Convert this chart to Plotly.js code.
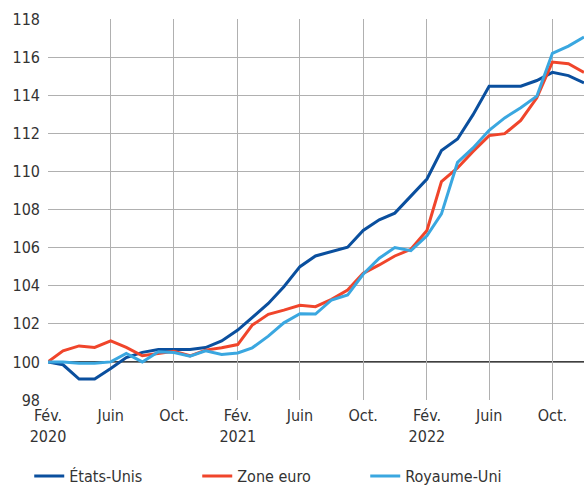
<!DOCTYPE html>
<html>
<head>
<meta charset="utf-8">
<script src="https://cdn.plot.ly/plotly-3.0.1.min.js"></script>
<style>html,body{margin:0;padding:0;background:#fff;}#chart{width:584px;height:485px;}</style>
</head>
<body>
<div id="chart"></div>
<script>
// Monthly dates Feb 2020 .. Dec 2022
const months = [
  '2020-02-01','2020-03-01','2020-04-01','2020-05-01','2020-06-01','2020-07-01','2020-08-01','2020-09-01','2020-10-01','2020-11-01','2020-12-01',
  '2021-01-01','2021-02-01','2021-03-01','2021-04-01','2021-05-01','2021-06-01','2021-07-01','2021-08-01','2021-09-01','2021-10-01','2021-11-01','2021-12-01',
  '2022-01-01','2022-02-01','2022-03-01','2022-04-01','2022-05-01','2022-06-01','2022-07-01','2022-08-01','2022-09-01','2022-10-01','2022-11-01','2022-12-01'
];
const etatsUnis = [100, 99.85, 99.1, 99.1, 99.65, 100.23, 100.5, 100.65, 100.65, 100.65, 100.75,
  101.1, 101.67, 102.33, 103.07, 103.95, 105.0, 105.56, 105.79, 106.02, 106.9, 107.46, 107.81,
  108.68, 109.6, 111.1, 111.7, 112.98, 114.47, 114.47, 114.47, 114.77, 115.2, 115.03, 114.65];
const zoneEuro = [100, 100.58, 100.84, 100.76, 101.1, 100.76, 100.32, 100.44, 100.56, 100.32, 100.62,
  100.74, 100.91, 101.93, 102.5, 102.72, 102.97, 102.9, 103.28, 103.77, 104.65, 105.09, 105.56,
  105.91, 106.9, 109.47, 110.18, 111.05, 111.88, 111.98, 112.68, 113.86, 115.74, 115.65, 115.2];
const royaumeUni = [100, 100.0, 99.93, 99.93, 100.0, 100.44, 100.0, 100.53, 100.49, 100.3, 100.58,
  100.39, 100.47, 100.74, 101.35, 102.05, 102.53, 102.51, 103.25, 103.51, 104.6, 105.44, 106.0,
  105.84, 106.62, 107.77, 110.47, 111.23, 112.16, 112.81, 113.34, 113.95, 116.2, 116.58, 117.05];

const seriesNames = ['États-Unis', 'Zone euro', 'Royaume-Uni'];
const seriesColors = ['#0a4f9e', '#f0452b', '#3aa7e0'];

const xTickVals = ['2020-02-01','2020-06-01','2020-10-01','2021-02-01','2021-06-01','2021-10-01','2022-02-01','2022-06-01','2022-10-01'];
const xTickText = ['Fév.<br>2020','Juin','Oct.','Fév.<br>2021','Juin','Oct.','Fév.<br>2022','Juin','Oct.'];
const yTickVals = [98,100,102,104,106,108,110,112,114,116,118];
const yGridVals = [102,104,106,108,110,112,114,116];
const yRange = [98, 118];
const BASE = 100;

const FONT = '"Liberation Sans Narrow", "DejaVu Sans Condensed", "Liberation Sans", sans-serif';

const data = [etatsUnis, zoneEuro, royaumeUni].map((vals, i) => ({
  type: 'scatter', mode: 'lines', x: months, y: vals, name: seriesNames[i],
  line: {color: seriesColors[i], width: 3}
}));

const layout = {
  width: 584, height: 485,
  margin: {l: 48, r: 0, t: 19, b: 85, autoexpand: false},
  paper_bgcolor: '#fff', plot_bgcolor: '#fff',
  font: {family: FONT, size: 16, color: '#333'},
  showlegend: true,
  legend: {
    orientation: 'h', x: -0.035, xanchor: 'left', y: -0.2, yanchor: 'middle',
    entrywidth: 123, entrywidthmode: 'pixels',
    font: {family: FONT, size: 16, color: '#333'}
  },
  xaxis: {
    type: 'date', range: ['2020-02-01', '2022-12-01'],
    tickmode: 'array', tickvals: xTickVals, ticktext: xTickText,
    showgrid: true, gridcolor: '#b0b0b0', gridwidth: 1,
    zeroline: false, showline: false, ticks: '', ticklabelstandoff: 4,
    tickfont: {family: FONT, size: 16, color: '#333'}
  },
  yaxis: {
    range: yRange, tickmode: 'array', tickvals: yTickVals,
    showgrid: false,
    minor: {tickmode: 'array', tickvals: yGridVals, showgrid: true, gridcolor: '#b0b0b0', gridwidth: 1, ticks: ''},
    zeroline: false, showline: false, ticks: '', ticklabelstandoff: 7,
    tickfont: {family: FONT, size: 16, color: '#333'}
  },
  shapes: [{
    type: 'line', xref: 'paper', x0: 0, x1: 1, yref: 'y', y0: BASE, y1: BASE,
    line: {color: '#000', width: 1.2}, layer: 'between'
  }]
};

Plotly.newPlot('chart', data, layout, {displayModeBar: false, staticPlot: true});
</script>
</body>
</html>
